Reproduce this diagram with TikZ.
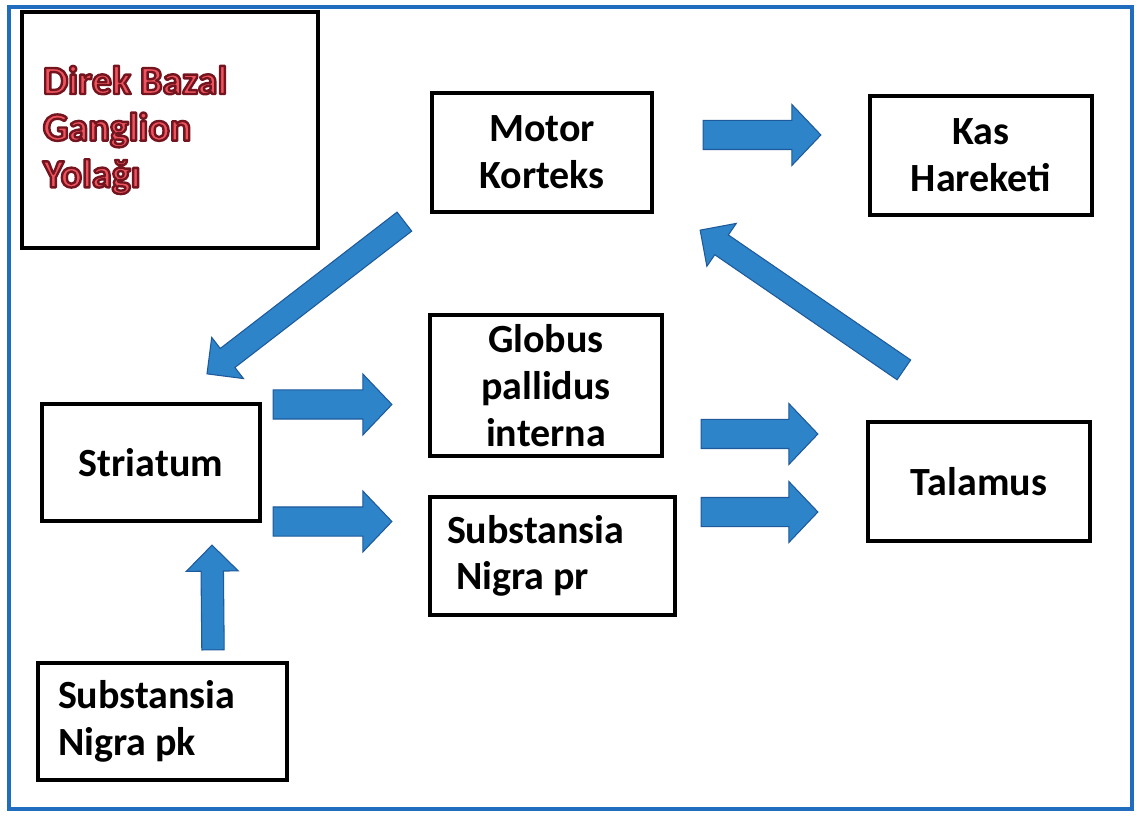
\documentclass[tikz,border=0pt]{standalone}
\usepackage{fontspec}
\setmainfont{Carlito}
\usetikzlibrary{calc}

\definecolor{arrowblue}{RGB}{45,132,201}
\definecolor{arrowedge}{RGB}{30,90,155}
\definecolor{frameblue}{RGB}{32,108,190}
\definecolor{titleedge}{RGB}{115,20,30}

% sizes of the block arrows
\newcommand{\shaftw}{10.9pt}
\newcommand{\headw}{22.9pt}
\newcommand{\headl}{21.8pt}

% block arrow from tail to tip
\newcommand{\blockarrow}[2]{%
  \coordinate (ba-a) at (#1);
  \coordinate (ba-b) at (#2);
  \coordinate (ba-h) at ($(ba-b)!\headl!(ba-a)$);
  \filldraw[block]
    ($(ba-a)!\shaftw!90:(ba-b)$) -- ($(ba-h)!\shaftw!90:(ba-b)$)
    -- ($(ba-h)!\headw!90:(ba-b)$) -- (ba-b)
    -- ($(ba-h)!\headw!-90:(ba-b)$) -- ($(ba-h)!\shaftw!-90:(ba-b)$)
    -- ($(ba-a)!\shaftw!-90:(ba-b)$) -- cycle;
}

% red letters with a dark edge (fill red, stroke in text colour)
\newcommand{\edged}[1]{\special{pdf:literal direct 2 Tr 1.8 w 1 J 1 j 0.93 0.33 0.37 rg}#1\special{pdf:literal direct 0 Tr}}

\begin{document}
\begin{tikzpicture}[
    x=0.75pt, y=-0.75pt,
    font=\fontsize{30}{35}\selectfont\bfseries,
    box/.style={rectangle, draw=black, line width=3.2pt, inner sep=0pt,
    align=center},
    lbox/.style={box, align=flush left},
    block/.style={fill=arrowblue, draw=arrowedge, line width=0.8pt,
    line join=miter} ]

    \useasboundingbox (0,0) rectangle (1139,816);
    \draw[frameblue, line width=2.4pt] (9,7) rectangle (1132,809);

    % Title
    \node[lbox, minimum width=222pt, minimum height=177pt,
    text width=190.5pt, inner xsep=15.75pt, text=titleedge] (title) at (170,130)
	    {\edged{Direk Bazal\\Ganglion\\Yolağı}};

    % Boxes
    \node[box, minimum width=165pt, minimum height=89.25pt] (motor) at (542,152.5)
	    {Motor\\Korteks};
    \node[box, minimum width=166.5pt, minimum height=89.25pt] (kas) at (981,155.5)
	    {Kas\\Hareketi};
    \node[box, minimum width=174pt, minimum height=105.75pt] (globus) at (546,385.5)
	    {Globus\\pallidus\\interna};
    \node[box, minimum width=163.5pt, minimum height=87.75pt] (striatum) at (151,462.5)
	    {Striatum};
    \node[box, minimum width=166.5pt, minimum height=89.25pt] (talamus) at (979,481.5)
	    {Talamus};
    \node[lbox, minimum width=183.75pt, minimum height=88.5pt,
    text width=158.25pt, inner xsep=12.75pt] (snpr) at (552.5,556)
	    {Substansia\\\hspace*{0.23em}Nigra pr};
    \node[lbox, minimum width=186.75pt, minimum height=87.75pt,
    text width=156.75pt, inner xsep=15pt] (snpk) at (162.5,721.5)
	    {Substansia\\Nigra pk};

    % Straight block arrows
    \blockarrow{$(motor.east)+(49,-17.5)$}{$(kas.west)+(-47,-20.5)$}
    \blockarrow{$(striatum.east)+(11,-58)$}{$(globus.west)+(-36,19)$}
    \blockarrow{$(striatum.east)+(11,59)$}{$(snpr.west)+(-36,-34.5)$}
    \blockarrow{$(globus.east)+(37,48.5)$}{$(talamus.west)+(-48,-47.5)$}
    \blockarrow{$(snpr.east)+(24,-44)$}{$(talamus.west)+(-48,30.5)$}

    % Slanted and upward arrows are thinner
    \renewcommand{\shaftw}{9pt}
    \renewcommand{\headw}{19.5pt}
    \renewcommand{\headl}{19.5pt}
    \blockarrow{$(motor.south west)+(-25.5,7.5)$}{$(striatum.north)+(56,-28)$}
    \blockarrow{$(talamus.north west)+(38,-50)$}{$(motor.south east)+(46,16)$}
    \renewcommand{\shaftw}{8.4pt}
    \blockarrow{$(snpk.north)+(50.5,-11)$}{$(striatum.south)+(61,22)$}

  \end{tikzpicture}
\end{document}
